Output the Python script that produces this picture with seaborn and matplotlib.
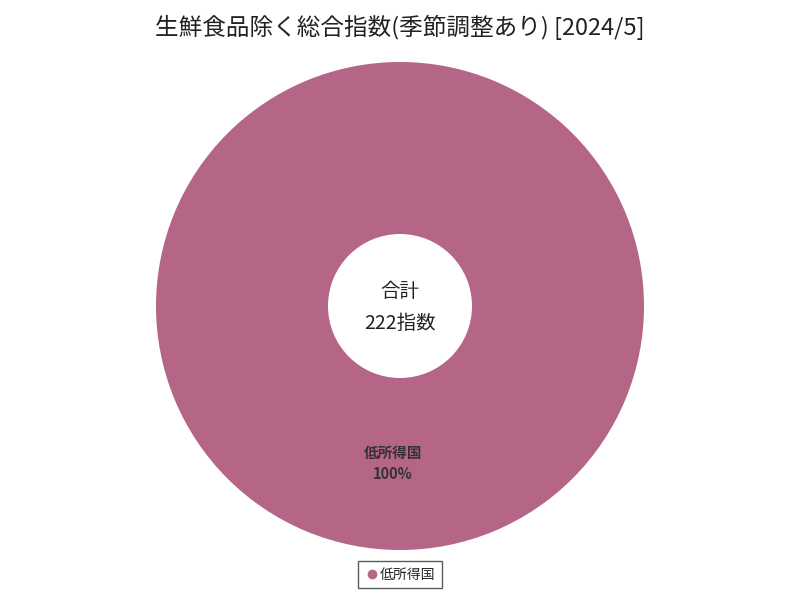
import matplotlib
matplotlib.use("Agg")
import matplotlib.pyplot as plt
import seaborn as sns
from matplotlib.lines import Line2D

sns.set_theme(style="white")
plt.rcParams['font.family'] = ['Noto Sans CJK JP', 'DejaVu Sans']

# data
labels = ['低所得国']
values = [222]
colors = ['#b56585']
title = '生鮮食品除く総合指数(季節調整あり) [2024/5]'
center_title = '合計'
center_value = '222指数'

fig = plt.figure(figsize=(8, 6), dpi=100)
fig.patch.set_facecolor('white')
ax = fig.add_axes([156 / 800, 50 / 600, 488 / 800, 488 / 600])

wedges, _ = ax.pie(values, colors=colors, startangle=90, counterclock=False,
                   radius=1.0, wedgeprops=dict(width=1 - 72 / 244, edgecolor='none'))
ax.set_xlim(-1, 1)
ax.set_ylim(-1, 1)
ax.set_aspect('equal')
ax.axis('off')

total = sum(values)
for v, lab in zip(values, labels):
    pct = v / total * 100
    ax.text(-0.03, -0.645, f'{lab}\n{pct:.0f}%', ha='center', va='center',
            fontsize=10.5, fontweight='bold', color='#333333', linespacing=1.35)

ax.text(0, 0.06, center_title, ha='center', va='center', fontsize=14, color='#222222')
ax.text(0, -0.07, center_value, ha='center', va='center', fontsize=14, color='#222222')

fig.text(0.5, 0.955, title, ha='center', va='center', fontsize=17, color='#222222')

handles = [Line2D([0], [0], marker='o', color='w', markerfacecolor=c, markersize=8)
           for c in colors]
leg = fig.legend(handles, labels, loc='center', bbox_to_anchor=(0.5, 0.0425),
                 frameon=True, fancybox=False, fontsize=10, handletextpad=0.1,
                 handlelength=1.0, borderpad=0.5)
leg.get_frame().set_edgecolor('#333333')
leg.get_frame().set_linewidth(1.0)

fig.savefig('out.png', dpi=100, facecolor='white')
